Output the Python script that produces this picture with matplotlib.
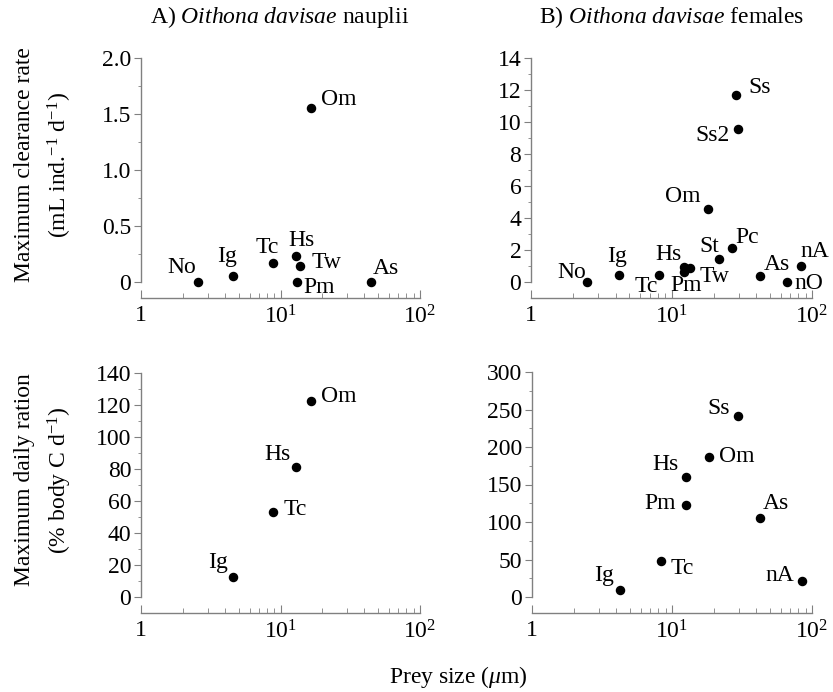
import numpy as np
import matplotlib
matplotlib.use("Agg")
import matplotlib.pyplot as plt
from matplotlib.ticker import FixedLocator, MultipleLocator

plt.rcParams['font.family'] = ['Liberation Serif', 'DejaVu Serif']
plt.rcParams['mathtext.fontset'] = 'custom'
plt.rcParams['mathtext.rm'] = 'Liberation Serif'
plt.rcParams['mathtext.it'] = 'Liberation Serif:italic'

# A) nauplii - clearance rate
a_cr_names = ['No', 'Ig', 'Tc', 'Hs', 'Tw', 'Pm', 'Om', 'As']
a_cr_size = [2.55, 4.6, 8.9, 13.0, 13.9, 13.1, 16.6, 44.5]
a_cr_val = [0.0, 0.05, 0.17, 0.23, 0.145, 0.0, 1.55, 0.0]
a_cr_off = [(-16, 15), (-6, 20), (-6, 15), (5, 16), (26, 3), (22, -5), (28, 9), (15, 14)]

# B) females - clearance rate
b_cr_names = ['No', 'Ig', 'Tc', 'Hs', 'Pm', 'Tw', 'St', 'Pc', 'Om', 'Ss', 'Ss2', 'As', 'nO', 'nA']
b_cr_size = [2.5, 4.2, 8.2, 12.2, 12.2, 13.6, 21.7, 26.8, 18.1, 28.9, 29.7, 42.3, 66.0, 83.6]
b_cr_val = [0.0, 0.46, 0.42, 0.96, 0.65, 0.9, 1.46, 2.13, 4.58, 11.7, 9.54, 0.36, 0.0, 1.02]
b_cr_off = [(-15, 10), (-2, 18), (-13, -11), (-15, 12), (2, -14), (24, -9), (-10, 12),
            (16, 10), (-25, 12), (23, 7), (-25, -6), (17, 12), (22, -1), (14, 14)]

# A) nauplii - daily ration
a_dr_names = ['Ig', 'Tc', 'Hs', 'Om']
a_dr_size = [4.6, 8.9, 13.0, 16.6]
a_dr_val = [12.7, 53, 81.5, 122.5]
a_dr_off = [(-15, 14), (22, 3), (-19, 12), (28, 5)]

# B) females - daily ration
b_dr_names = ['Ig', 'Tc', 'Hs', 'Pm', 'Om', 'Ss', 'As', 'nA']
b_dr_size = [4.26, 8.4, 12.5, 12.5, 18.3, 29.4, 42.8, 84.5]
b_dr_val = [9.3, 48, 160, 123, 187, 241, 105, 22]
b_dr_off = [(-16, 15), (21, -7), (-20, 12), (-25, 1), (28, 0), (-19, 8), (15, 15), (-22, 5)]

W, H = 833, 692
fig = plt.figure(figsize=(W / 100, H / 100), dpi=100)
gray = '#808080'
fs = 17


def make_ax(left, right, top, bottom, ymax, ymajor, yminor, yfmt):
    ax = fig.add_axes([left / W, 1 - bottom / H, (right - left) / W, (bottom - top) / H])
    ax.set_xscale('log')
    ax.set_xlim(1, 100)
    ax.set_ylim(0, ymax)
    for s in ['top', 'right']:
        ax.spines[s].set_visible(False)
    for s in ['left', 'bottom']:
        ax.spines[s].set_color(gray)
        ax.spines[s].set_linewidth(1.0)
    ax.spines['bottom'].set_position(('outward', 16 * 0.72))
    ax.xaxis.set_major_locator(FixedLocator([1, 10, 100]))
    ax.xaxis.set_minor_locator(FixedLocator([k * d for d in (1, 10) for k in range(2, 10)]))
    ax.set_xticklabels(['1', r'$10^{1}$', r'$10^{2}$'])
    ax.xaxis.set_minor_formatter(plt.NullFormatter())
    ax.yaxis.set_major_locator(MultipleLocator(ymajor))
    ax.yaxis.set_minor_locator(MultipleLocator(yminor))
    ax.set_yticklabels([yfmt(v) for v in ax.get_yticks()])
    ax.tick_params(axis='x', which='major', direction='in', length=6, color=gray, labelsize=fs, pad=5)
    ax.tick_params(axis='x', which='minor', direction='in', length=3.5, color=gray)
    ax.tick_params(axis='y', which='major', direction='out', length=5, color=gray, labelsize=fs, pad=2)
    ax.tick_params(axis='y', which='minor', direction='out', length=2.5, color=gray)
    ax.patch.set_visible(False)
    return ax


def plot_points(ax, xs, ys, names, offs):
    ax.scatter(xs, ys, s=34, color='black', clip_on=False, zorder=3)
    for x, y, n, (dx, dy) in zip(xs, ys, names, offs):
        ax.annotate(n, (x, y), xytext=(dx, dy), textcoords='offset pixels',
                    ha='center', va='center', fontsize=fs, annotation_clip=False)


def fmt_dec(v):
    return '0' if v == 0 else '%.1f' % v


def fmt_int(v):
    return '%d' % round(v)


ax1 = make_ax(141, 420, 58, 282, 2.0, 0.5, 0.25, fmt_dec)
plot_points(ax1, a_cr_size, a_cr_val, a_cr_names, a_cr_off)

ax2 = make_ax(531, 812, 58, 282, 14, 2, 1, fmt_int)
plot_points(ax2, b_cr_size, b_cr_val, b_cr_names, b_cr_off)

ax3 = make_ax(141, 420, 373, 597, 140, 20, 10, fmt_int)
plot_points(ax3, a_dr_size, a_dr_val, a_dr_names, a_dr_off)

ax4 = make_ax(532, 812, 372, 597, 300, 50, 25, fmt_int)
plot_points(ax4, b_dr_size, b_dr_val, b_dr_names, b_dr_off)

fig.text(280 / W, 1 - 17 / H, r'A) $\mathit{Oithona\ davisae}$ nauplii', ha='center', va='center', fontsize=fs)
fig.text(672 / W, 1 - 17 / H, r'B) $\mathit{Oithona\ davisae}$ females', ha='center', va='center', fontsize=fs)

fig.text(44 / W, 1 - 165 / H, 'Maximum clearance rate\n(mL ind.$^{-1}$ d$^{-1}$)',
         rotation=90, ha='center', va='center', fontsize=fs, multialignment='center', linespacing=1.5)
fig.text(44 / W, 1 - 480 / H, 'Maximum daily ration\n(% body C d$^{-1}$)',
         rotation=90, ha='center', va='center', fontsize=fs, multialignment='center', linespacing=1.5)

fig.text(458 / W, 1 - 677 / H, r'Prey size ($\mathit{\mu}$m)', ha='center', va='center', fontsize=fs)

fig.savefig('out.png', dpi=100)
